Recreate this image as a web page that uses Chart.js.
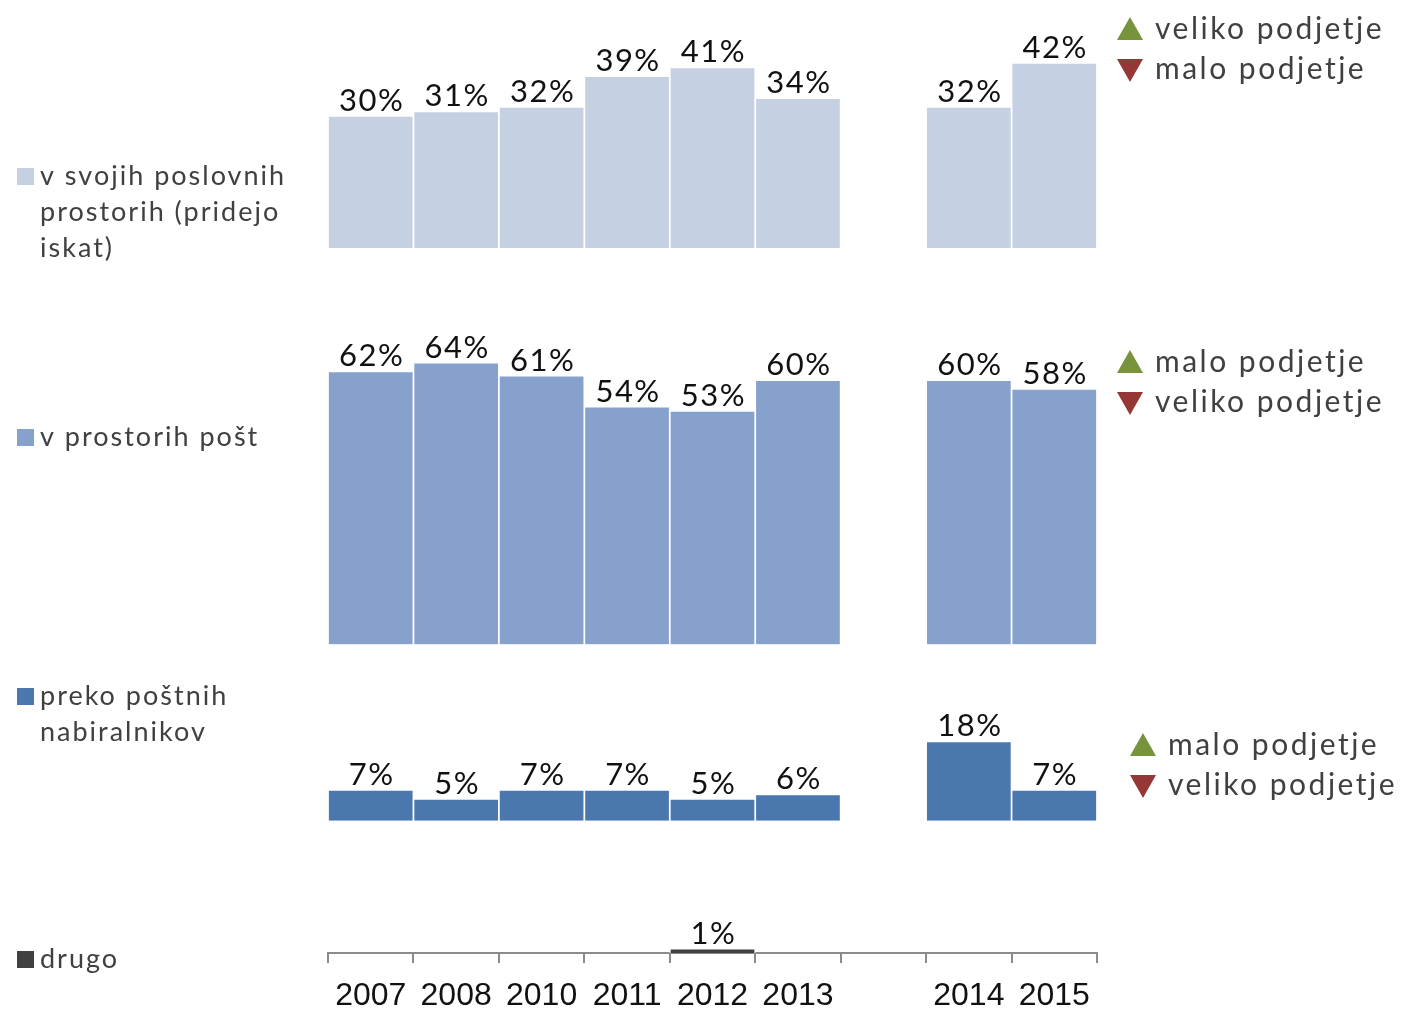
<!DOCTYPE html>
<html>
<head>
<meta charset="utf-8">
<script src="https://cdn.jsdelivr.net/npm/chart.js@4.4.1/dist/chart.umd.min.js"></script>
<style>
  body { margin: 0; background: #fff; }
  #wrap { position: relative; width: 1407px; height: 1011px; }
</style>
</head>
<body>
<div id="wrap"><canvas id="chart"></canvas></div>
<script>
// years on the x axis, the empty slot separates the two survey periods
const years = ['2007', '2008', '2010', '2011', '2012', '2013', '', '2014', '2015'];

const svojihProstorih = [30, 31, 32, 39, 41, 34, null, 32, 42];
const prostorihPost = [62, 64, 61, 54, 53, 60, null, 60, 58];
const postniNabiralniki = [7, 5, 7, 7, 5, 6, null, 18, 7];
const drugo = [null, null, null, null, 1, null, null, null, null];

const seriesNames = [
  ['v svojih poslovnih', 'prostorih (pridejo', 'iskat)'],
  ['v prostorih pošt'],
  ['preko poštnih', 'nabiralnikov'],
  ['drugo']
];
const seriesColors = ['#c5d0e3', '#86a1cc', '#4a77ad', '#404040'];

// up / down notes next to each panel
const trendUp = ['veliko podjetje', 'malo podjetje', 'malo podjetje'];
const trendDown = ['malo podjetje', 'veliko podjetje', 'veliko podjetje'];

// height of each panel in percentage points (top to bottom)
const panelRange = [54, 90, 40, 30];

const FONT = 'Lato, "Open Sans", sans-serif';

const barLabels = {
  id: 'barLabels',
  afterDatasetsDraw(chart) {
    const ctx = chart.ctx;
    ctx.save();
    ctx.font = '31px ' + FONT;
    ctx.letterSpacing = '1.5px';
    ctx.fillStyle = '#111';
    ctx.textAlign = 'center';
    ctx.textBaseline = 'alphabetic';
    chart.data.datasets.forEach((ds, i) => {
      chart.getDatasetMeta(i).data.forEach((bar, j) => {
        const v = ds.data[j];
        if (v == null) return;
        ctx.fillText(v + '%', bar.x + 1, bar.y - 5);
      });
    });
    ctx.restore();
  }
};

// series names on the left, up/down notes on the right
const sideText = {
  id: 'sideText',
  afterDraw(chart) {
    const ctx = chart.ctx;
    ctx.save();
    ctx.textBaseline = 'alphabetic';
    ctx.textAlign = 'left';

    const nameBase = [185, 446, 705, 968];
    ctx.font = '27px ' + FONT;
    ctx.letterSpacing = '2px';
    seriesNames.forEach((lines, i) => {
      ctx.fillStyle = seriesColors[i];
      ctx.fillRect(17, nameBase[i] - 17, 17, 17);
      ctx.fillStyle = '#404040';
      lines.forEach((t, k) => ctx.fillText(t, 40, nameBase[i] + k * 36));
    });

    const noteBase = [39, 372, 755];
    const noteX = [1117, 1117, 1130];
    ctx.font = '30px ' + FONT;
    ctx.letterSpacing = '2.5px';
    trendUp.forEach((t, i) => {
      const x = noteX[i], y = noteBase[i];
      ctx.fillStyle = '#77933c';
      ctx.beginPath();
      ctx.moveTo(x, y + 1); ctx.lineTo(x + 26, y + 1); ctx.lineTo(x + 13, y - 22);
      ctx.closePath(); ctx.fill();
      ctx.fillStyle = '#953735';
      ctx.beginPath();
      ctx.moveTo(x, y + 20); ctx.lineTo(x + 26, y + 20); ctx.lineTo(x + 13, y + 43);
      ctx.closePath(); ctx.fill();
      ctx.fillStyle = '#404040';
      ctx.fillText(t, x + 38, y);
      ctx.fillText(trendDown[i], x + 38, y + 40);
    });
    ctx.restore();
  }
};

function panelAxis(range, order) {
  return {
    type: 'linear',
    display: false,
    position: 'left',
    stack: 'panels',
    stackWeight: range,
    weight: order,
    min: 0,
    max: range,
    grid: { display: false }
  };
}

function barSet(data, color, axis) {
  return {
    data: data,
    yAxisID: axis,
    backgroundColor: color,
    borderColor: '#ffffff',
    borderWidth: 1.2,
    grouped: false,
    barPercentage: 1,
    categoryPercentage: 1
  };
}

new Chart(document.getElementById('chart'), {
  type: 'bar',
  data: {
    labels: years,
    datasets: [
      barSet(svojihProstorih, seriesColors[0], 'y1'),
      barSet(prostorihPost, seriesColors[1], 'y2'),
      barSet(postniNabiralniki, seriesColors[2], 'y3'),
      barSet(drugo, seriesColors[3], 'y4')
    ]
  },
  options: {
    responsive: true,
    maintainAspectRatio: false,
    animation: false,
    layout: { padding: { left: 328, right: 310, top: 10, bottom: 0 } },
    plugins: { legend: { display: false }, tooltip: { enabled: false } },
    scales: {
      x: {
        type: 'category',
        offset: true,
        afterFit(scale) { scale.height = 58; },
        grid: {
          offset: true,
          drawOnChartArea: false,
          drawTicks: true,
          tickLength: 10,
          color: '#8c8c8c',
          lineWidth: 2
        },
        border: { display: true, color: '#8c8c8c', width: 2 },
        ticks: {
          autoSkip: false,
          maxRotation: 0,
          padding: 17,
          color: '#111',
          font: { family: '"Liberation Sans", Arial, sans-serif', size: 32, lineHeight: 1 }
        }
      },
      y1: panelAxis(panelRange[0], 4),
      y2: panelAxis(panelRange[1], 3),
      y3: panelAxis(panelRange[2], 2),
      y4: panelAxis(panelRange[3], 1)
    }
  },
  plugins: [barLabels, sideText]
});
</script>
</body>
</html>
